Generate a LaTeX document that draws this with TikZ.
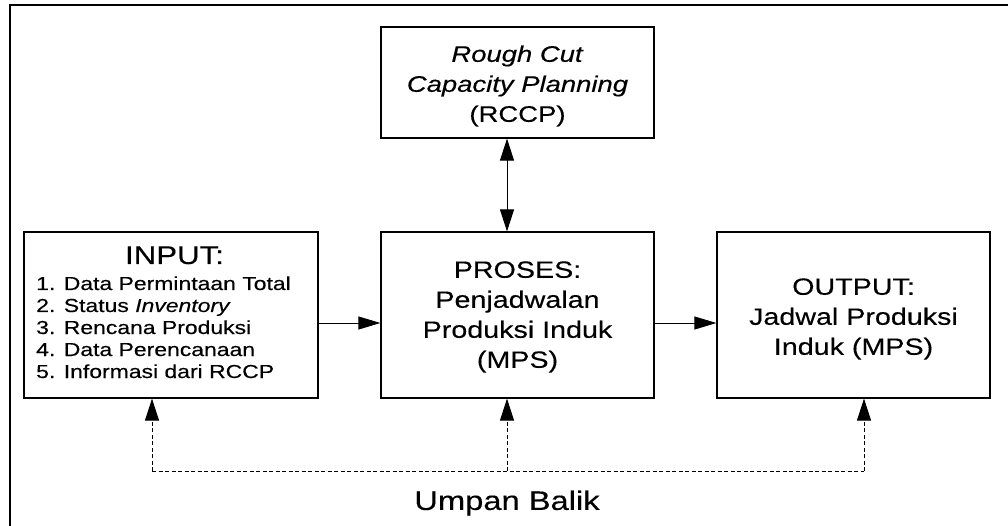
\documentclass[tikz,border=0pt]{standalone}
\usepackage{fontspec}
\setmainfont[FakeStretch=1.22,FakeBold=0.3]{Liberation Sans}
\usetikzlibrary{arrows.meta}
\begin{document}
\begin{tikzpicture}[x=1pt,y=-1pt,
  box/.style={draw, line width=1.2pt, inner sep=0pt},
  boxtxt/.style={inner sep=0pt, align=center},
  bigtxt/.style={font=\fontsize{23.5}{30}\selectfont},
  itemtxt/.style={font=\fontsize{18.8}{22}\selectfont, anchor=base west, inner sep=0pt},
  conn/.style={line width=0.9pt, -{Triangle[length=22pt,width=13pt]}},
  biconn/.style={line width=0.9pt, {Triangle[length=22pt,width=14pt]}-{Triangle[length=22pt,width=14pt]}},
  fb/.style={line width=0.9pt, dash pattern=on 4pt off 2.5pt},
  fbarrow/.style={fb, -{Triangle[length=22pt,width=14pt]}}
]
\useasboundingbox (0,0) rectangle (1008,526);
% frame
\coordinate (fbl) at (10,526);
\coordinate (ftl) at (10,5);
\coordinate (ftr) at (1008,5);
\draw[line width=2.2pt] (fbl) -- (ftl) -- (ftr);

% boxes
\node[box, minimum width=273pt, minimum height=111pt] (rccp) at (517.5,82.5) {};
\node[box, minimum width=273pt, minimum height=166pt] (proses) at (517.5,315) {};
\node[box, minimum width=273pt, minimum height=166pt] (output) at (853.5,315) {};
\node[box, minimum width=294pt, minimum height=166pt] (input) at (171,315) {};

% box texts
\node[boxtxt, font=\fontsize{22.5}{30}\selectfont] (rccptxt) at ([yshift=-3.5pt]rccp.center)
  {\textit{Rough Cut}\\\textit{Capacity Planning}\\(RCCP)};
\node[boxtxt, bigtxt] (prosestxt) at ([yshift=-2pt]proses.center)
  {PROSES:\\Penjadwalan\\Produksi Induk\\(MPS)};
\node[boxtxt, bigtxt] (outputtxt) at ([yshift=-4pt]output.center)
  {OUTPUT:\\Jadwal Produksi\\Induk (MPS)};

% input text
\node[font=\fontsize{25.6}{30}\selectfont, anchor=base, inner sep=0pt] (inhead) at (174.5,264) {INPUT:};
\node[itemtxt] (i1) at (36,290) {1. Data Permintaan Total};
\node[itemtxt] (i2) at (36,312) {2. Status \textit{Inventory}};
\node[itemtxt] (i3) at (36,334) {3. Rencana Produksi};
\node[itemtxt] (i4) at (36,356) {4. Data Perencanaan};
\node[itemtxt] (i5) at (36,378) {5. Informasi dari RCCP};

% connectors
\draw[conn] ([yshift=-8pt]input.east) -- ([yshift=-8pt]proses.west);
\draw[conn] ([yshift=-8pt]proses.east) -- ([yshift=-8pt]output.west);
\draw[biconn] ([xshift=-10.5pt]rccp.south) -- ([xshift=-10.5pt]proses.north);

% feedback
\coordinate (fb1) at (152,471);
\coordinate (fb2) at (507,471);
\coordinate (fb3) at (864,471);
\draw[fb] (fb1) -- (fb3);
\draw[fbarrow] (fb1) -- (fb1 |- input.south);
\draw[fbarrow] (fb2) -- (fb2 |- proses.south);
\draw[fbarrow] (fb3) -- (fb3 |- output.south);
\node[font=\fontsize{26.8}{30}\selectfont] (umpan) at (507,503) {Umpan Balik};
\end{tikzpicture}
\end{document}
